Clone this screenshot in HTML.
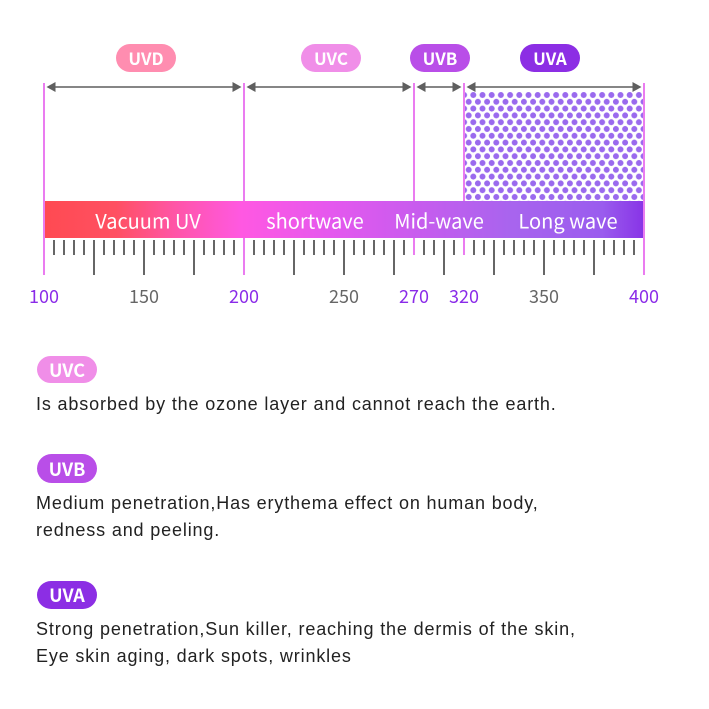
<!DOCTYPE html>
<html><head><meta charset="utf-8"><style>
html,body{margin:0;padding:0;background:#fff;}
svg{display:block;}
.cjk{font-family:"Noto Sans CJK SC","Liberation Sans",sans-serif;}
.body{font-family:"Liberation Sans",sans-serif;font-size:18px;fill:#222;letter-spacing:0.85px;}
</style></head><body>
<svg width="709" height="709" viewBox="0 0 709 709" xmlns="http://www.w3.org/2000/svg">
<defs>
<linearGradient id="bar" x1="44" y1="0" x2="644" y2="0" gradientUnits="userSpaceOnUse">
<stop offset="0" stop-color="#ff4a52"/>
<stop offset="0.12" stop-color="#ff5062"/>
<stop offset="0.22" stop-color="#ff55a8"/>
<stop offset="0.33" stop-color="#ff58e2"/>
<stop offset="0.48" stop-color="#e458ee"/>
<stop offset="0.62" stop-color="#c85cee"/>
<stop offset="0.78" stop-color="#a864ee"/>
<stop offset="0.93" stop-color="#9a5cee"/>
<stop offset="1" stop-color="#8834e6"/>
</linearGradient>
<pattern id="dots" x="459.5" y="91.6" width="9.2" height="13.6" patternUnits="userSpaceOnUse">
<circle cx="4.6" cy="3.4" r="3" fill="#9a6aee"/>
<circle cx="0" cy="10.2" r="3" fill="#9a6aee"/>
<circle cx="9.2" cy="10.2" r="3" fill="#9a6aee"/>
</pattern>
</defs>
<rect width="709" height="709" fill="#fff"/>

<!-- dotted region -->
<rect x="465" y="92" width="178" height="109" fill="url(#dots)"/>

<!-- pink vertical lines -->
<g stroke="#ea7cf0" stroke-width="2">
<line x1="44" y1="83" x2="44" y2="275"/>
<line x1="244" y1="83" x2="244" y2="275"/>
<line x1="414" y1="83" x2="414" y2="255"/>
<line x1="464" y1="83" x2="464" y2="255"/>
<line x1="644" y1="83" x2="644" y2="275"/>
</g>

<!-- arrows -->
<g stroke="#5f5f5f" stroke-width="1.5">
<line x1="50" y1="87" x2="238" y2="87"/>
<line x1="250" y1="87" x2="408" y2="87"/>
<line x1="420" y1="87" x2="458" y2="87"/>
<line x1="470" y1="87" x2="638" y2="87"/>
</g>
<g fill="#5f5f5f">
<polygon points="46.5,87 55.5,82 55.5,92"/>
<polygon points="241.5,87 232.5,82 232.5,92"/>
<polygon points="246.5,87 255.5,82 255.5,92"/>
<polygon points="411.5,87 402.5,82 402.5,92"/>
<polygon points="416.5,87 425.5,82 425.5,92"/>
<polygon points="461.5,87 452.5,82 452.5,92"/>
<polygon points="466.5,87 475.5,82 475.5,92"/>
<polygon points="641.5,87 632.5,82 632.5,92"/>
</g>

<!-- top pills -->
<g class="cjk" font-weight="bold" font-size="17" fill="#fff" text-anchor="middle">
<rect x="116" y="44" width="60" height="28" rx="14" fill="#ff8db0"/>
<text x="146" y="65">UVD</text>
<rect x="301" y="44" width="60" height="28" rx="14" fill="#f08ee8"/>
<text x="331" y="65">UVC</text>
<rect x="410" y="44" width="60" height="28" rx="14" fill="#b94ee8"/>
<text x="440" y="65">UVB</text>
<rect x="520" y="44" width="60" height="28" rx="14" fill="#8c2ee4"/>
<text x="550" y="65">UVA</text>
</g>

<!-- gradient bar -->
<rect x="45" y="201" width="598" height="37" fill="url(#bar)"/>
<g class="cjk" font-size="20" fill="#fff" text-anchor="middle">
<text x="148" y="228.5">Vacuum UV</text>
<text x="315" y="228.5">shortwave</text>
<text x="439" y="228.5">Mid-wave</text>
<text x="568" y="228.5">Long wave</text>
</g>

<!-- ticks -->
<g stroke="#666" stroke-width="2">
<line x1="54" y1="240" x2="54" y2="255"/>
<line x1="64" y1="240" x2="64" y2="255"/>
<line x1="74" y1="240" x2="74" y2="255"/>
<line x1="84" y1="240" x2="84" y2="255"/>
<line x1="94" y1="240" x2="94" y2="275"/>
<line x1="104" y1="240" x2="104" y2="255"/>
<line x1="114" y1="240" x2="114" y2="255"/>
<line x1="124" y1="240" x2="124" y2="255"/>
<line x1="134" y1="240" x2="134" y2="255"/>
<line x1="144" y1="240" x2="144" y2="275"/>
<line x1="154" y1="240" x2="154" y2="255"/>
<line x1="164" y1="240" x2="164" y2="255"/>
<line x1="174" y1="240" x2="174" y2="255"/>
<line x1="184" y1="240" x2="184" y2="255"/>
<line x1="194" y1="240" x2="194" y2="275"/>
<line x1="204" y1="240" x2="204" y2="255"/>
<line x1="214" y1="240" x2="214" y2="255"/>
<line x1="224" y1="240" x2="224" y2="255"/>
<line x1="234" y1="240" x2="234" y2="255"/>
<line x1="254" y1="240" x2="254" y2="255"/>
<line x1="264" y1="240" x2="264" y2="255"/>
<line x1="274" y1="240" x2="274" y2="255"/>
<line x1="284" y1="240" x2="284" y2="255"/>
<line x1="294" y1="240" x2="294" y2="275"/>
<line x1="304" y1="240" x2="304" y2="255"/>
<line x1="314" y1="240" x2="314" y2="255"/>
<line x1="324" y1="240" x2="324" y2="255"/>
<line x1="334" y1="240" x2="334" y2="255"/>
<line x1="344" y1="240" x2="344" y2="275"/>
<line x1="354" y1="240" x2="354" y2="255"/>
<line x1="364" y1="240" x2="364" y2="255"/>
<line x1="374" y1="240" x2="374" y2="255"/>
<line x1="384" y1="240" x2="384" y2="255"/>
<line x1="394" y1="240" x2="394" y2="275"/>
<line x1="404" y1="240" x2="404" y2="255"/>
<line x1="424" y1="240" x2="424" y2="255"/>
<line x1="434" y1="240" x2="434" y2="255"/>
<line x1="444" y1="240" x2="444" y2="275"/>
<line x1="454" y1="240" x2="454" y2="255"/>
<line x1="474" y1="240" x2="474" y2="255"/>
<line x1="484" y1="240" x2="484" y2="255"/>
<line x1="494" y1="240" x2="494" y2="275"/>
<line x1="504" y1="240" x2="504" y2="255"/>
<line x1="514" y1="240" x2="514" y2="255"/>
<line x1="524" y1="240" x2="524" y2="255"/>
<line x1="534" y1="240" x2="534" y2="255"/>
<line x1="544" y1="240" x2="544" y2="275"/>
<line x1="554" y1="240" x2="554" y2="255"/>
<line x1="564" y1="240" x2="564" y2="255"/>
<line x1="574" y1="240" x2="574" y2="255"/>
<line x1="584" y1="240" x2="584" y2="255"/>
<line x1="594" y1="240" x2="594" y2="275"/>
<line x1="604" y1="240" x2="604" y2="255"/>
<line x1="614" y1="240" x2="614" y2="255"/>
<line x1="624" y1="240" x2="624" y2="255"/>
<line x1="634" y1="240" x2="634" y2="255"/>
</g>

<!-- axis labels -->
<g class="cjk" font-size="18" text-anchor="middle">
<text x="44" y="303" fill="#8a2ae8">100</text>
<text x="144" y="303" fill="#666">150</text>
<text x="244" y="303" fill="#8a2ae8">200</text>
<text x="344" y="303" fill="#666">250</text>
<text x="414" y="303" fill="#8a2ae8">270</text>
<text x="464" y="303" fill="#8a2ae8">320</text>
<text x="544" y="303" fill="#666">350</text>
<text x="644" y="303" fill="#8a2ae8">400</text>
</g>

<!-- bottom pills -->
<g class="cjk" font-weight="bold" font-size="18" fill="#fff" text-anchor="middle">
<rect x="37" y="356" width="60" height="27" rx="13.5" fill="#f08ee8"/>
<text x="67" y="377">UVC</text>
<rect x="37" y="454" width="60" height="29" rx="14.5" fill="#b94ee8"/>
<text x="67" y="476">UVB</text>
<rect x="37" y="581" width="60" height="28" rx="14" fill="#8c2ee4"/>
<text x="67" y="602">UVA</text>
</g>

<!-- body text -->
<g class="body">
<text x="36" y="410">Is absorbed by the ozone layer and cannot reach the earth.</text>
<text x="36" y="509">Medium penetration,Has erythema effect on human body,</text>
<text x="36" y="536">redness and peeling.</text>
<text x="36" y="635">Strong penetration,Sun killer, reaching the dermis of the skin,</text>
<text x="36" y="662">Eye skin aging, dark spots, wrinkles</text>
</g>
</svg>
</body></html>
